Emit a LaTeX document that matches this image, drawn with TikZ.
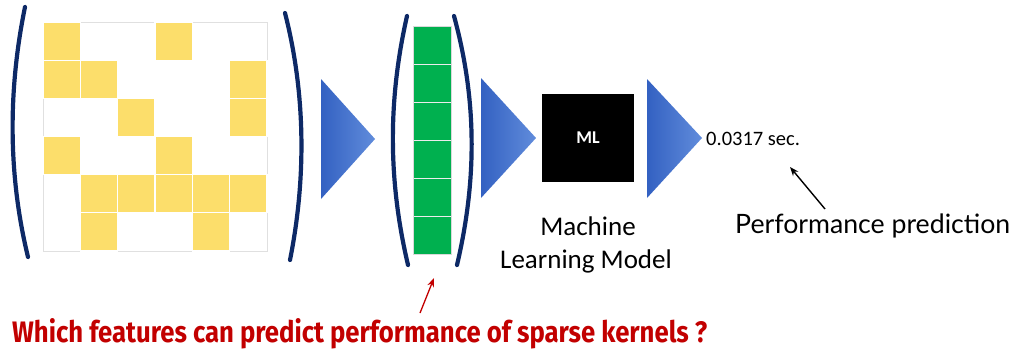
\documentclass[tikz,border=0pt]{standalone}
\usepackage{fontspec}
\usepackage{graphicx}
\setmainfont{Carlito}
\newfontfamily\perffont{Lato}
\newfontfamily\redfont{Fira Sans}
\usetikzlibrary{arrows.meta}
\definecolor{navy}{rgb}{0.05,0.16,0.40}
\definecolor{yel}{rgb}{0.99,0.87,0.42}
\definecolor{grn}{rgb}{0.0,0.69,0.31}
\definecolor{tridark}{rgb}{0.20,0.38,0.76}
\definecolor{trilight}{rgb}{0.38,0.55,0.86}
\definecolor{redtxt}{rgb}{0.76,0.0,0.0}
\tikzset{
  paren/.style={draw=navy, line width=4.2pt, line cap=round},
  ycell/.style={fill=yel, draw=white, line width=1.2pt},
  gcell/.style={fill=grn, draw=white!85!gray, line width=1pt},
  tri/.style={left color=tridark, right color=trilight, draw=none},
  mlbox/.style={fill=black, minimum width=92pt, minimum height=88pt, inner sep=0pt, text=white, font=\bfseries\fontsize{18pt}{20pt}\selectfont},
  ptr/.style={-{Stealth[length=9pt,width=7pt]}, line width=1.4pt},
}
\begin{document}
\begin{tikzpicture}[x=1pt,y=-1pt]
\useasboundingbox (0,0) rectangle (1016,348);
% sparse matrix frame
\draw[draw=black!12, line width=0.8pt] (43,22) rectangle (267,251);
\foreach \r/\c in {0/0,0/3,1/0,1/1,1/5,2/2,2/5,3/0,3/3,4/1,4/2,4/3,4/4,4/5,5/1,5/4}{
  \path[ycell] ({43+\c*37.33},{22+\r*38.17}) rectangle ++(37.33,38.17);
}
% big parens
\draw[paren] (25,7) .. controls (8,90) and (8,175) .. (28,257);
\draw[paren] (285,13) .. controls (306,95) and (306,180) .. (290,260);
% arrow triangle 1
\shade[tri] (321,79) -- (375,139) -- (321,199) -- cycle;
% feature vector
\foreach \r in {0,...,5}{
  \path[gcell] (413,{26+\r*38}) rectangle ++(38,38);
}
\draw[draw=black!15, line width=0.6pt] (413,26) rectangle (451,254);
\draw[paren] (407,16) .. controls (388,100) and (388,180) .. (408,265);
\draw[paren] (454,16) .. controls (477,100) and (477,180) .. (457,265);
% arrow triangle 2
\shade[tri] (481,78) -- (536,138) -- (481,198) -- cycle;
% ML box
\node[mlbox] (ml) at (588,138) {ML};
\node[anchor=base, font=\fontsize{27pt}{33pt}\selectfont] (mach) at (588,235) {Machine};
\node[anchor=base, font=\fontsize{27pt}{33pt}\selectfont] (lmod) at (586,268) {Learning Model};
% arrow triangle 3
\shade[tri] (647,79) -- (702,138) -- (647,198) -- cycle;
\node[anchor=west, inner sep=0pt, font=\fontsize{20.5pt}{24pt}\selectfont] (val) at (706,139) {0.0317 sec.};
\node[anchor=base west, inner sep=0pt] (perf) at (735,233) {\resizebox{275pt}{!}{\perffont Performance prediction}};
\coordinate (pt) at (825,209);
\coordinate (ph) at (790,167);
\draw[ptr] (pt) -- (ph);
% red question
\node[anchor=base west, inner sep=0pt, text=redtxt] (q) at (12,342) {\resizebox{695pt}{24pt}{\redfont\bfseries Which features can predict performance of sparse kernels ?}};
\coordinate (rt) at (420,313);
\coordinate (rh) at (434,278);
\draw[ptr, draw=redtxt, fill=redtxt, line width=1.3pt] (rt) -- (rh);
\end{tikzpicture}
\end{document}
